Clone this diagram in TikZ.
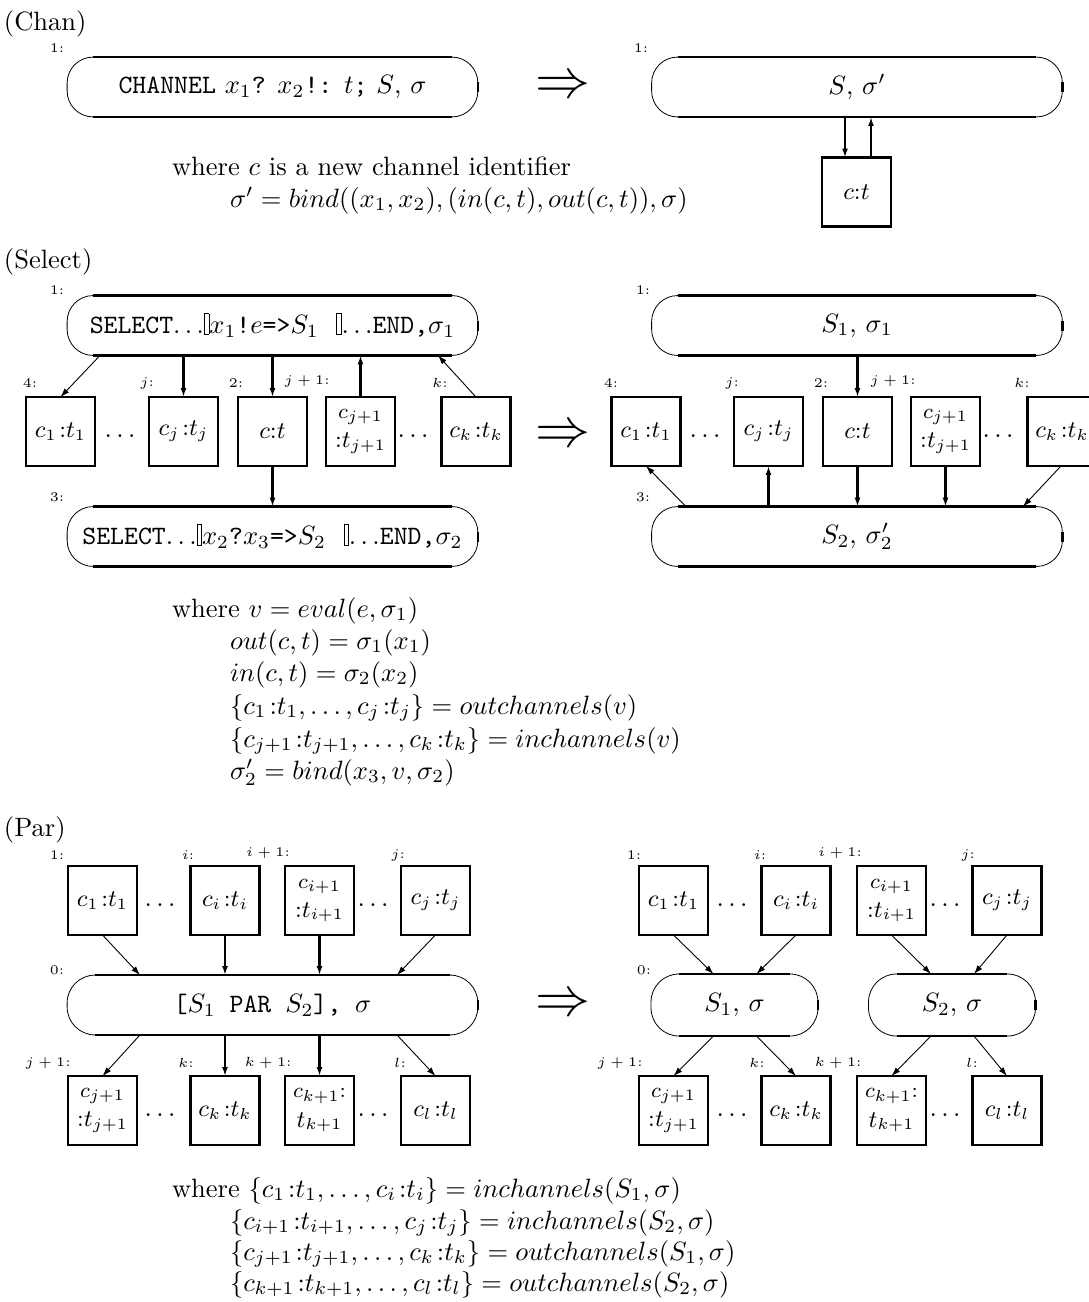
\documentclass[tikz,border=0pt]{standalone}
\usetikzlibrary{arrows.meta}
\newcommand\grdbar{{\setlength{\fboxsep}{0pt}\setlength{\fboxrule}{0.35pt}\fbox{\rule{0pt}{7.5pt}\hspace{1.3pt}}}}
\newcommand\ct[2]{$c_{#1}\mkern2mu{:}t_{#2}$}
\newcommand\cttwo[2]{{\footnotesize$c_{#1}$}\\${:}t_{#2}$}
\tikzset{
  every node/.style={scale=2.65, inner sep=0pt, outer sep=0pt},
  chbox/.style={draw, line width=2.6pt, minimum width=26pt, minimum height=26pt, font=\small, align=center},
  procbox/.style={minimum width=155pt, minimum height=22.6pt},
  smallproc/.style={minimum width=63pt, minimum height=23.4pt},
  tag/.style={font=\tiny},
  dotsn/.style={font=\normalsize},
  impl/.style={font=\huge},
  txt/.style={anchor=base west},
  thk/.style={line width=2.2pt, -{Latex[length=9pt,width=6pt]}},
  thn/.style={line width=0.9pt, -{Latex[length=9pt,width=6pt]}},
}
\begin{document}
\begin{tikzpicture}[x=1pt,y=-1pt]
\useasboundingbox (0,0) rectangle (1089,1302);

% ---------------- Chan ----------------
\node[txt] (hchan) at (4,30) {(Chan)};
\node[tag] (tchan1) at (57,48) {1:};
\node[procbox] (chanL) at (272.5,87) {\texttt{CHANNEL} $x_1$\texttt{?} $x_2$\texttt{!:} $t$\texttt{;} $S$, $\sigma$};
\node[impl] (imp1) at (563,87) {$\Rightarrow$};
\node[tag] (tchan2) at (641,48) {1:};
\node[procbox] (chanR) at (857,87) {$S$, $\sigma'$};
\node[chbox] (ct0) at (856.5,192) {$c{:}t$};
\draw[thk] ([xshift=-12pt]chanR.south) -- ([xshift=-12pt]chanR.south |- ct0.north);
\draw[thk] ([xshift=14pt]chanR.south |- ct0.north) -- ([xshift=14pt]chanR.south);
\node[txt] (wchan1) at (172,175) {where $c$ is a new channel identifier};
\node[txt] (wchan2) at (230,207) {$\sigma' = bind((x_1, x_2), (in(c,t), out(c,t)), \sigma)$};

% ---------------- Select ----------------
\node[txt] (hsel) at (4,268) {(Select)};
\node[tag] (ts1) at (57,290) {1:};
\node[procbox] (selL) at (272.5,325.5) {\texttt{SELECT}$\ldots$\grdbar$x_1$\texttt{!}$e$\texttt{=>}$S_1$\ \ \grdbar$\ldots$\texttt{END,}$\sigma_1$};
\node[chbox] (c1L) at (60.5,431.5) {\ct{1}{1}};
\node[chbox] (cjL) at (183.5,431.5) {\ct{j}{j}};
\node[chbox] (ctL) at (272.5,431.5) {$c{:}t$};
\node[chbox] (cj1L) at (360.5,431.5) {\cttwo{j+1}{j+1}};
\node[chbox] (ckL) at (476,431.5) {\ct{k}{k}};
\node[dotsn] (d1L) at (120,436) {$\ldots$};
\node[dotsn] (d2L) at (413,436) {$\ldots$};
\node[tag] (ts4) at (30,383) {4:};
\node[tag] (tsj) at (147,383) {$j$:};
\node[tag] (ts2) at (236,383) {2:};
\node[tag] (tsj1) at (307,381) {$j+1$:};
\node[tag] (tsk) at (440,383) {$k$:};
\node[tag] (ts3) at (57,497) {3:};
\node[procbox] (selL2) at (272.5,536.5) {\texttt{SELECT}$\ldots$\grdbar$x_2$\texttt{?}$x_3$\texttt{=>}$S_2$\ \ \grdbar$\ldots$\texttt{END,}$\sigma_2$};
\draw[thn] ([xshift=-172.5pt]selL.south) -- (c1L.north);
\draw[thk] (cjL.north |- selL.south) -- (cjL.north);
\draw[thk] (ctL.north |- selL.south) -- (ctL.north);
\draw[thk] (cj1L.north) -- (cj1L.north |- selL.south);
\draw[thn] (ckL.north) -- ([xshift=165.5pt]selL.south);
\draw[thk] (ctL.south) -- (ctL.south |- selL2.north);

\node[impl] (imp2) at (563,436) {$\Rightarrow$};

\node[tag] (tr1) at (643,290) {1:};
\node[procbox] (selR) at (857,325.5) {$S_1$, $\sigma_1$};
\node[chbox] (c1R) at (646,431.5) {\ct{1}{1}};
\node[chbox] (cjR) at (768.5,431.5) {\ct{j}{j}};
\node[chbox] (ctR) at (857.5,431.5) {$c{:}t$};
\node[chbox] (cj1R) at (945.5,431.5) {\cttwo{j+1}{j+1}};
\node[chbox] (ckR) at (1062,431.5) {\ct{k}{k}};
\node[dotsn] (d1R) at (705,436) {$\ldots$};
\node[dotsn] (d2R) at (998,436) {$\ldots$};
\node[tag] (tr4) at (611,383) {4:};
\node[tag] (trj) at (732,383) {$j$:};
\node[tag] (tr2) at (821,383) {2:};
\node[tag] (trj1) at (893,381) {$j+1$:};
\node[tag] (trk) at (1022,383) {$k$:};
\node[tag] (tr3) at (643,497) {3:};
\node[procbox] (selR2) at (857,536.5) {$S_2$, $\sigma'_2$};
\draw[thk] (ctR.north |- selR.south) -- (ctR.north);
\draw[thn] ([xshift=-171pt]selR2.north) -- (c1R.south);
\draw[thk] (cjR.south |- selR2.north) -- (cjR.south);
\draw[thk] (ctR.south) -- (ctR.south |- selR2.north);
\draw[thk] (cj1R.south) -- (cj1R.south |- selR2.north);
\draw[thn] ([xshift=-1pt]ckR.south) -- ([xshift=166pt]selR2.north);

\node[txt] (ws1) at (172,617) {where $v = eval(e, \sigma_1)$};
\node[txt] (ws2) at (230,649) {$out(c,t) = \sigma_1(x_1)$};
\node[txt] (ws3) at (230,681) {$in(c,t) = \sigma_2(x_2)$};
\node[txt] (ws4) at (230,714) {$\{c_1\mkern2mu{:}t_1, \ldots, c_j\mkern2mu{:}t_j\} = outchannels(v)$};
\node[txt] (ws5) at (230,747) {$\{c_{j+1}\mkern2mu{:}t_{j+1}, \ldots, c_k\mkern2mu{:}t_k\} = inchannels(v)$};
\node[txt] (ws6) at (230,779) {$\sigma'_2 = bind(x_3, v, \sigma_2)$};

% ---------------- Par ----------------
\node[txt] (hpar) at (4,836) {(Par)};
\node[tag] (tp1) at (57,855) {1:};
\node[tag] (tpi) at (188,855) {$i$:};
\node[tag] (tpi1) at (268,853) {$i+1$:};
\node[tag] (tpj) at (398,855) {$j$:};
\node[chbox] (c1P) at (102.5,900.5) {\ct{1}{1}};
\node[chbox] (ciP) at (225,900.5) {\ct{i}{i}};
\node[chbox] (ci1P) at (319.5,900.5) {\cttwo{i+1}{i+1}};
\node[chbox] (cjP) at (435.5,900.5) {\ct{j}{j}};
\node[dotsn] (d1P) at (160,905) {$\ldots$};
\node[dotsn] (d2P) at (373,905) {$\ldots$};
\node[tag] (tp0) at (57,970) {0:};
\node[procbox] (parL) at (272.5,1005) {\texttt{[}$S_1$\texttt{\ PAR\ }$S_2$\texttt{],\ }$\sigma$};
\node[tag] (tpj1) at (48,1063) {$j+1$:};
\node[tag] (tpk) at (186,1063) {$k$:};
\node[tag] (tpk1) at (268,1063) {$k+1$:};
\node[tag] (tpl) at (400,1063) {$l$:};
\node[chbox] (cj1P) at (102.5,1110.5) {\cttwo{j+1}{j+1}};
\node[chbox] (ckP) at (225,1110.5) {\ct{k}{k}};
\node[chbox] (ck1P) at (319.5,1110.5) {{\footnotesize$c_{k+1}{:}$}\\$t_{k+1}$};
\node[chbox] (clP) at (435.5,1110.5) {\ct{l}{l}};
\node[dotsn] (d3P) at (160,1115) {$\ldots$};
\node[dotsn] (d4P) at (373,1115) {$\ldots$};
\draw[thn] (c1P.south) -- ([xshift=-132.5pt]parL.north);
\draw[thk] (ciP.south) -- (ciP.south |- parL.north);
\draw[thk] (ci1P.south) -- (ci1P.south |- parL.north);
\draw[thn] (cjP.south) -- ([xshift=124.5pt]parL.north);
\draw[thn] ([xshift=-132.5pt]parL.south) -- (cj1P.north);
\draw[thk] (ckP.north |- parL.south) -- (ckP.north);
\draw[thk] (ck1P.north |- parL.south) -- (ck1P.north);
\draw[thn] ([xshift=124.5pt]parL.south) -- (clP.north);

\node[impl] (imp3) at (563,1005) {$\Rightarrow$};

\node[tag] (tq1) at (634,855) {1:};
\node[tag] (tqi) at (760,855) {$i$:};
\node[tag] (tqi1) at (840,853) {$i+1$:};
\node[tag] (tqj) at (968,855) {$j$:};
\node[chbox] (c1Q) at (673.5,900.5) {\ct{1}{1}};
\node[chbox] (ciQ) at (796,900.5) {\ct{i}{i}};
\node[chbox] (ci1Q) at (891.5,900.5) {\cttwo{i+1}{i+1}};
\node[chbox] (cjQ) at (1007,900.5) {\ct{j}{j}};
\node[dotsn] (d1Q) at (732,905) {$\ldots$};
\node[dotsn] (d2Q) at (945,905) {$\ldots$};
\node[tag] (tq0) at (644,970) {0:};
\node[smallproc] (s1Q) at (734.5,1005) {$S_1$, $\sigma$};
\node[smallproc] (s2Q) at (952,1005) {$S_2$, $\sigma$};
\node[tag] (tqj1) at (620,1063) {$j+1$:};
\node[tag] (tqk) at (757,1063) {$k$:};
\node[tag] (tqk1) at (838,1063) {$k+1$:};
\node[tag] (tql) at (972,1063) {$l$:};
\node[chbox] (cj1Q) at (673.5,1110.5) {\cttwo{j+1}{j+1}};
\node[chbox] (ckQ) at (796,1110.5) {\ct{k}{k}};
\node[chbox] (ck1Q) at (891.5,1110.5) {{\footnotesize$c_{k+1}{:}$}\\$t_{k+1}$};
\node[chbox] (clQ) at (1007,1110.5) {\ct{l}{l}};
\node[dotsn] (d3Q) at (732,1115) {$\ldots$};
\node[dotsn] (d4Q) at (945,1115) {$\ldots$};
\draw[thn] (c1Q.south) -- ([xshift=-21pt]s1Q.north);
\draw[thn] (ciQ.south) -- ([xshift=22pt]s1Q.north);
\draw[thn] (ci1Q.south) -- ([xshift=-21pt]s2Q.north);
\draw[thn] (cjQ.south) -- ([xshift=22pt]s2Q.north);
\draw[thn] ([xshift=-21pt]s1Q.south) -- (cj1Q.north);
\draw[thn] ([xshift=22pt]s1Q.south) -- (ckQ.north);
\draw[thn] ([xshift=-21pt]s2Q.south) -- (ck1Q.north);
\draw[thn] ([xshift=22pt]s2Q.south) -- (clQ.north);

\node[txt] (wp1) at (172,1197) {where $\{c_1\mkern2mu{:}t_1, \ldots, c_i\mkern2mu{:}t_i\} = inchannels(S_1, \sigma)$};
\node[txt] (wp2) at (230,1229) {$\{c_{i+1}\mkern2mu{:}t_{i+1}, \ldots, c_j\mkern2mu{:}t_j\} = inchannels(S_2, \sigma)$};
\node[txt] (wp3) at (230,1260) {$\{c_{j+1}\mkern2mu{:}t_{j+1}, \ldots, c_k\mkern2mu{:}t_k\} = outchannels(S_1, \sigma)$};
\node[txt] (wp4) at (230,1291) {$\{c_{k+1}\mkern2mu{:}t_{k+1}, \ldots, c_l\mkern2mu{:}t_l\} = outchannels(S_2, \sigma)$};

% ---------------- rounded process outlines ----------------
\foreach \nm/\rad in {chanL/26, chanR/26, selL/26, selL2/26, selR/26, selR2/26, parL/28, s1Q/28, s2Q/28} {
  \draw[line width=0.8pt, rounded corners=\rad pt] (\nm.north west) rectangle (\nm.south east);
  \draw[line width=2.6pt] ([xshift=\rad pt]\nm.north west) -- ([xshift=-\rad pt]\nm.north east);
  \draw[line width=2.6pt] ([xshift=\rad pt]\nm.south west) -- ([xshift=-\rad pt]\nm.south east);
  \draw[line width=2.4pt] ([yshift=5pt]\nm.east) -- ([yshift=-5pt]\nm.east);
}
\end{tikzpicture}
\end{document}
